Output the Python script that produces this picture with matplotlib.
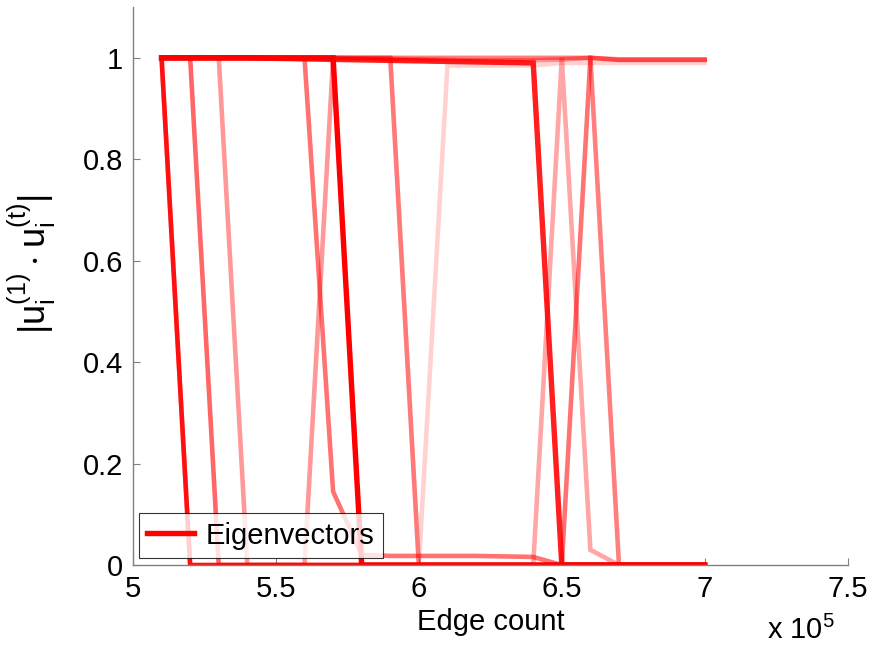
import matplotlib
matplotlib.use("Agg")
import matplotlib.pyplot as plt
from matplotlib.ticker import FuncFormatter, MultipleLocator

plt.rcParams['font.family'] = ['Liberation Sans', 'DejaVu Sans']
plt.rcParams['mathtext.fontset'] = 'custom'
plt.rcParams['mathtext.rm'] = 'Liberation Sans'
plt.rcParams['mathtext.default'] = 'regular'

# Edge counts of the graph snapshots
edge_count = [510000, 520000, 530000, 540000, 550000, 560000, 570000, 580000,
              590000, 600000, 610000, 620000, 630000, 640000, 650000, 660000,
              670000, 680000, 690000, 700000]

# |u_i^(1) . u_i^(t)| for each tracked eigenvector
ev1 = [1, 0, 0, 0, 0, 0, 0, 0, 0, 0, 0, 0, 0, 0, 0, 0, 0, 0, 0, 0]
ev2 = [1, 1, 0, 0, 0, 0, 0, 0, 0, 0, 0, 0, 0, 0, 0, 0, 0, 0, 0, 0]
ev3 = [1, 1, 1, 0, 0, 0, 1, 0.999, 0.998, 0.997, 0.996, 0.995, 0.995, 0.995,
       0.997, 1, 0.997, 0.997, 0.997, 0.997]
ev4 = [1, 1, 1, 1, 1, 1, 1, 0, 0, 0, 0, 0, 0, 0, 0, 0, 0, 0, 0, 0]
ev5 = [1, 1, 1, 1, 0.999, 0.998, 0.997, 0.996, 0.995, 0.994, 0.993, 0.992,
       0.991, 0.99, 0, 0, 0, 0, 0, 0]
ev6 = [1, 1, 1, 1, 1, 1, 0.145, 0.02, 0.018, 0.018, 0.018, 0.018, 0.017,
       0.016, 0, 1, 0.996, 0.996, 0.996, 0.996]
ev7 = [1, 1, 1, 1, 1, 1, 1, 1, 1, 0, 0, 0, 0, 0, 0, 0, 0, 0, 0, 0]
ev8 = [1, 1, 1, 1, 1, 1, 1, 1, 1, 0, 0.985, 0.985, 0.985, 0.985, 0.99, 0.99,
       0.99, 0.99, 0.99, 0.99]
ev9 = [1, 0, 0, 0, 0, 0, 0, 0, 0, 0, 0, 0, 0, 0, 1, 0.03, 0, 0, 0, 0]
ev10 = [1, 1, 1, 1, 1, 1, 1, 1, 1, 1, 1, 1, 1, 1, 1, 1, 0, 0, 0, 0]

series = [ev1, ev2, ev3, ev4, ev5, ev6, ev7, ev8, ev9, ev10]
alphas = [0.9, 0.6, 0.4, 1.0, 0.88, 0.55, 0.42, 0.18, 0.35, 0.5]
widths = [3.3, 3.3, 3.3, 3.9, 3.9, 3.3, 3.3, 3.3, 3.3, 3.3]

fig = plt.figure(figsize=(8.83, 6.48), dpi=100)
ax = fig.add_axes([0.1506, 0.128, 0.8094, 0.861])

# faint eigenvectors first so the strong ones sit on top
order = sorted(range(len(series)), key=lambda k: alphas[k])
for k in order:
    ax.plot(edge_count, series[k], color='red', alpha=alphas[k],
            lw=widths[k], solid_joinstyle='miter',
            label='Eigenvectors' if k == 3 else None)

ax.set_xlim(500000, 750000)
ax.set_ylim(0, 1.1)
ax.xaxis.set_major_locator(MultipleLocator(50000))
ax.set_yticks([0, 0.2, 0.4, 0.6, 0.8, 1.0])
ax.xaxis.set_major_formatter(FuncFormatter(lambda v, p: '%g' % (v / 1e5)))
ax.yaxis.set_major_formatter(FuncFormatter(lambda v, p: '%g' % v))

for side in ('top', 'right'):
    ax.spines[side].set_visible(False)
for side in ('left', 'bottom'):
    ax.spines[side].set_color('#808080')
    ax.spines[side].set_linewidth(1.0)
ax.tick_params(direction='in', length=5, width=0.8, colors='#808080',
               labelcolor='black', labelsize=21, pad=7)

ax.set_xlabel('Edge count', fontsize=21, labelpad=4)
ax.set_ylabel(r'$|u_i^{(1)}\cdot u_i^{(t)}|$', fontsize=26)
ax.yaxis.set_label_coords(-0.105, 0.54)
fig.text(0.907, 0.004, r'x $10^5$', fontsize=21, ha='center', va='bottom')

leg = ax.legend(loc='lower left', bbox_to_anchor=(0.008, 0.012),
                fontsize=21, frameon=True, fancybox=False,
                handlelength=1.6, handletextpad=0.4, borderpad=0.3,
                borderaxespad=0)
leg.get_frame().set_edgecolor('black')
leg.get_frame().set_linewidth(0.8)
for h in leg.legend_handles:
    h.set_alpha(1.0)

fig.savefig('out.png', dpi=100)
